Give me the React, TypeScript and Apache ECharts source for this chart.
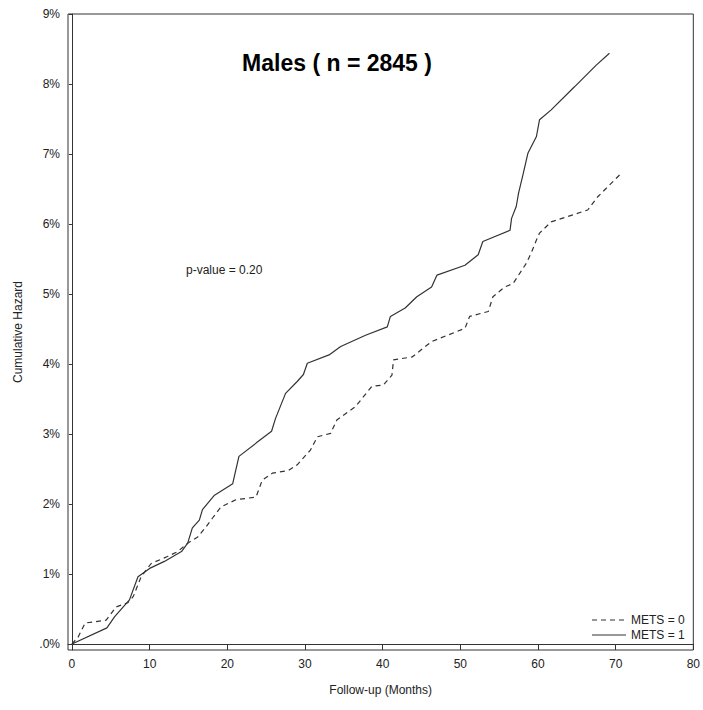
import React, { useEffect, useRef } from "react";
import * as echarts from "echarts";

const titleText = "Males ( n = 2845 )";
const pValueText = "p-value = 0.20";
const legendLabels = ["METS = 0", "METS = 1"];
const xTicks = [0, 10, 20, 30, 40, 50, 60, 70, 80];
const yTicks = [0, 1, 2, 3, 4, 5, 6, 7, 8, 9];

// METS = 0 (dashed): [month, cumulative hazard %]
const mets0: [number, number][] = [
  [0, 0], [0.8, 0.1], [1.7, 0.3], [4.4, 0.34], [5.7, 0.53], [7.2, 0.59], [7.9, 0.68],
  [8.9, 0.96], [10.2, 1.15], [12.3, 1.25], [13.6, 1.32], [14.9, 1.44], [16.2, 1.53],
  [17.3, 1.68], [18.1, 1.8], [19.2, 1.96], [21.1, 2.06], [23.7, 2.1], [24.5, 2.34],
  [25.8, 2.44], [27.9, 2.48], [29.0, 2.56], [30.7, 2.77], [31.6, 2.96], [33.3, 3.01],
  [34.1, 3.2], [36.5, 3.39], [38.6, 3.68], [40.1, 3.7], [41.2, 3.84], [41.4, 4.06],
  [43.8, 4.1], [46.3, 4.32], [50.6, 4.51], [51.2, 4.68], [53.6, 4.75], [54.2, 4.96],
  [55.7, 5.1], [56.8, 5.15], [58.5, 5.44], [59.1, 5.58], [59.8, 5.77], [60.2, 5.87],
  [61.7, 6.03], [66.4, 6.2], [67.7, 6.39], [70.5, 6.7],
];

// METS = 1 (solid)
const mets1: [number, number][] = [
  [0, 0], [4.5, 0.23], [5.5, 0.39], [7.4, 0.63], [8.5, 0.96], [10, 1.08], [11.9, 1.18],
  [14.1, 1.32], [14.9, 1.44], [15.5, 1.66], [16.4, 1.77], [16.8, 1.92], [18.3, 2.12],
  [20.7, 2.29], [20.9, 2.39], [21.5, 2.68], [23.7, 2.87], [25.7, 3.04], [26.2, 3.22],
  [27.5, 3.58], [29.0, 3.75], [29.8, 3.85], [30.3, 4.01], [33.1, 4.13], [34.6, 4.25],
  [37.8, 4.41], [40.6, 4.53], [41.0, 4.68], [42.9, 4.8], [44.4, 4.96], [46.3, 5.1],
  [47.0, 5.27], [50.6, 5.41], [52.3, 5.56], [52.9, 5.75], [56.4, 5.91], [56.6, 6.08],
  [57.2, 6.25], [57.5, 6.44], [58.1, 6.72], [58.7, 7.01], [59.8, 7.25], [60.2, 7.49],
  [61.7, 7.63], [64.7, 7.96], [67.5, 8.27], [69.2, 8.44],
];

const FONT = "'Liberation Sans', Arial, sans-serif";
const INK = "#222";
const LINE = "#333";
const DASH = [5, 4];

export default function App() {
  const ref = useRef<HTMLDivElement>(null);
  useEffect(() => {
    if (!ref.current) return;
    const chart = echarts.init(ref.current, undefined, { renderer: "svg" });
    chart.setOption({
      animation: false,
      backgroundColor: "#fff",
      textStyle: { fontFamily: FONT },
      title: {
        text: titleText,
        left: 332,
        top: 46,
        textAlign: "center",
        textStyle: { fontFamily: FONT, fontSize: 23, fontWeight: "bold", color: "#000" },
      },
      graphic: [
        {
          type: "text",
          left: 186,
          top: 264,
          style: { text: pValueText, font: `12px ${FONT}`, fill: INK },
        },
        {
          type: "line",
          shape: { x1: 592, y1: 620, x2: 626, y2: 620 },
          style: { stroke: LINE, lineWidth: 1.2, lineDash: DASH },
        },
        {
          type: "text",
          x: 631,
          y: 620,
          style: { text: legendLabels[0], font: `12px ${FONT}`, fill: INK, verticalAlign: "middle" },
        },
        {
          type: "line",
          shape: { x1: 592, y1: 635, x2: 626, y2: 635 },
          style: { stroke: LINE, lineWidth: 1.2 },
        },
        {
          type: "text",
          x: 631,
          y: 635,
          style: { text: legendLabels[1], font: `12px ${FONT}`, fill: INK, verticalAlign: "middle" },
        },
      ],
      grid: {
        left: 68,
        top: 14,
        right: 6,
        bottom: 60,
        show: true,
        borderColor: LINE,
        borderWidth: 1,
        containLabel: false,
      },
      xAxis: {
        type: "value",
        min: -0.51,
        max: 80,
        name: "Follow-up (Months)",
        nameLocation: "middle",
        nameGap: 34,
        nameTextStyle: { fontFamily: FONT, fontSize: 12, color: INK },
        axisLine: { show: true, lineStyle: { color: LINE, width: 1 } },
        axisTick: { show: true, length: 6, customValues: xTicks, lineStyle: { color: LINE } },
        axisLabel: {
          customValues: xTicks,
          margin: 8,
          fontFamily: FONT,
          fontSize: 12,
          color: INK,
        },
        splitLine: { show: false },
      },
      yAxis: {
        type: "value",
        min: -0.0857,
        max: 9,
        name: "Cumulative Hazard",
        nameLocation: "middle",
        nameGap: 44,
        nameRotate: 90,
        nameTextStyle: { fontFamily: FONT, fontSize: 12, color: INK },
        axisLine: { show: true, lineStyle: { color: LINE, width: 1 } },
        axisTick: { show: true, length: 3, customValues: yTicks, lineStyle: { color: LINE } },
        axisLabel: {
          customValues: yTicks,
          margin: 8,
          fontFamily: FONT,
          fontSize: 12,
          color: INK,
          formatter: (v: number) => (v === 0 ? ".0%" : `${v}%`),
        },
        splitLine: { show: false },
      },
      series: [
        {
          name: legendLabels[0],
          type: "line",
          data: mets0,
          symbol: "none",
          showSymbol: false,
          smooth: false,
          lineStyle: { color: LINE, width: 1.2, type: DASH },
          itemStyle: { color: LINE },
        },
        {
          name: legendLabels[1],
          type: "line",
          data: mets1,
          symbol: "none",
          showSymbol: false,
          smooth: false,
          lineStyle: { color: LINE, width: 1.2, type: "solid" },
          itemStyle: { color: LINE },
        },
      ],
    });
    return () => chart.dispose();
  }, []);
  return (
    <div
      ref={ref}
      style={{ position: "absolute", left: 0, top: 0, width: 703, height: 710 }}
    />
  );
}
